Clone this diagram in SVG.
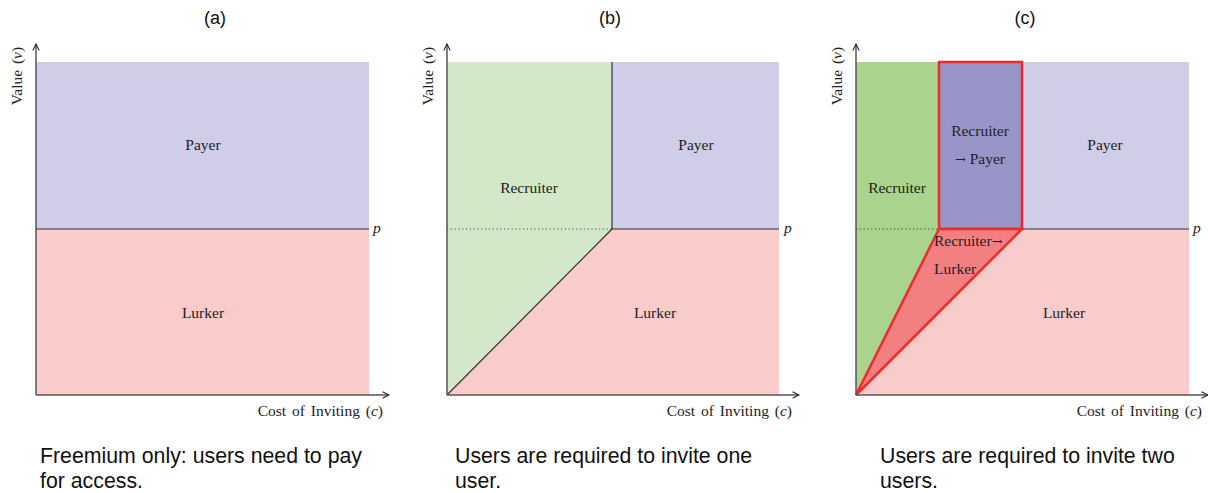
<svg xmlns="http://www.w3.org/2000/svg" width="1208" height="493" viewBox="0 0 1208 493">
<defs>
<marker id="arr" viewBox="0 0 10 10" refX="9" refY="5" markerWidth="8" markerHeight="8" markerUnits="userSpaceOnUse" orient="auto">
<path d="M1,1 L9,5 L1,9" fill="none" stroke="#222" stroke-width="1.3"/>
</marker>
<style>
.lbl{font-family:"Liberation Serif",serif;font-size:15.5px;fill:#222;text-anchor:middle}
.lbll{font-family:"Liberation Serif",serif;font-size:15.5px;fill:#222}
.axl{font-family:"Liberation Serif",serif;font-size:15.5px;fill:#222;word-spacing:2px}
.arw{font-family:"DejaVu Serif",serif;font-size:13px}
.ttl{font-family:"Liberation Sans",Arial,sans-serif;font-size:18px;fill:#111;text-anchor:middle}
.cap{font-family:"Liberation Sans",Arial,sans-serif;font-size:21.3px;fill:#111}
.ax{stroke:#555;stroke-width:1.5;fill:none}
.pline{stroke:#333;stroke-width:1.2;fill:none}
.dot{stroke:#444;stroke-width:1.2;stroke-dasharray:1.2 2.6;fill:none}
.payer{fill:#d0cde8}
.lurker{fill:#f9cbcb}
.rec{fill:#d3e8c8}
.recd{fill:#aad38e}
.rp{fill:#9896c9;stroke:#ee2a2a;stroke-width:2.5}
.rl{fill:#f38080;stroke:#ee2a2a;stroke-width:2.5}
</style>
</defs>

<!-- Panel (a) -->
<g id="panel-a">
<text class="ttl" x="215" y="24">(a)</text>
<rect class="payer" x="36" y="62" width="333" height="167"/>
<rect class="lurker" x="36" y="229" width="333" height="166"/>
<line class="pline" x1="36" y1="229" x2="369" y2="229"/>
<text class="lbl" x="203" y="150">Payer</text>
<text class="lbl" x="203" y="318">Lurker</text>
<text class="lbll" x="373" y="233" font-style="italic">p</text>
<text class="axl" text-anchor="middle" transform="translate(22,76) rotate(-90)">Value (<tspan font-style="italic">v</tspan>)</text>
<text class="axl" x="383" y="416" text-anchor="end">Cost of Inviting (<tspan font-style="italic">c</tspan>)</text>
<text class="cap" x="40" y="463">Freemium only: users need to pay</text>
<text class="cap" x="40" y="488">for access.</text>
</g>

<!-- Panel (b) -->
<g id="panel-b">
<text class="ttl" x="610" y="24">(b)</text>
<polygon class="rec" points="447,62 612,62 612,229 447,395"/>
<polygon class="payer" points="612,62 779,62 779,229 612,229"/>
<polygon class="lurker" points="447,395 612,229 779,229 779,395"/>
<line class="dot" x1="447" y1="229" x2="612" y2="229"/>
<line class="pline" x1="612" y1="229" x2="779" y2="229"/>
<line class="pline" x1="612" y1="62" x2="612" y2="229"/>
<line class="pline" x1="447" y1="395" x2="612" y2="229"/>
<text class="lbl" x="529" y="193">Recruiter</text>
<text class="lbl" x="696" y="150">Payer</text>
<text class="lbl" x="655" y="318">Lurker</text>
<text class="lbll" x="784" y="233" font-style="italic">p</text>
<text class="axl" text-anchor="middle" transform="translate(433,76) rotate(-90)">Value (<tspan font-style="italic">v</tspan>)</text>
<text class="axl" x="792" y="416" text-anchor="end">Cost of Inviting (<tspan font-style="italic">c</tspan>)</text>
<text class="cap" x="455" y="463">Users are required to invite one</text>
<text class="cap" x="455" y="488">user.</text>
</g>

<!-- Panel (c) -->
<g id="panel-c">
<text class="ttl" x="1025" y="24">(c)</text>
<polygon class="recd" points="856,62 939,62 939,229 856,395"/>
<polygon class="payer" points="1022,62 1189,62 1189,229 1022,229"/>
<polygon class="lurker" points="856,395 1022,229 1189,229 1189,395"/>
<line class="dot" x1="856" y1="229" x2="939" y2="229"/>
<line class="pline" x1="1022" y1="229" x2="1189" y2="229"/>
<rect class="rp" x="939" y="62" width="83" height="167"/>
<polygon class="rl" points="856,395 939,229 1022,229"/>
<text class="lbl" x="897" y="193">Recruiter</text>
<text class="lbl" x="980" y="136">Recruiter</text>
<text class="lbl" x="980" y="164"><tspan class="arw">→</tspan> Payer</text>
<text class="lbll" x="934" y="246">Recruiter<tspan class="arw">→</tspan></text>
<text class="lbll" x="934" y="274">Lurker</text>
<text class="lbl" x="1105" y="150">Payer</text>
<text class="lbl" x="1064" y="318">Lurker</text>
<text class="lbll" x="1193" y="233" font-style="italic">p</text>
<text class="axl" text-anchor="middle" transform="translate(842,76) rotate(-90)">Value (<tspan font-style="italic">v</tspan>)</text>
<text class="axl" x="1202" y="416" text-anchor="end">Cost of Inviting (<tspan font-style="italic">c</tspan>)</text>
<text class="cap" x="880" y="463">Users are required to invite two</text>
<text class="cap" x="880" y="488">users.</text>
</g>

<!-- Axes -->
<g id="connectors">
<line class="ax" x1="36" y1="395" x2="36" y2="44" marker-end="url(#arr)"/>
<line class="ax" x1="36" y1="395" x2="389" y2="395" marker-end="url(#arr)"/>
<line class="ax" x1="447" y1="395" x2="447" y2="44" marker-end="url(#arr)"/>
<line class="ax" x1="447" y1="395" x2="799" y2="395" marker-end="url(#arr)"/>
<line class="ax" x1="856" y1="395" x2="856" y2="44" marker-end="url(#arr)"/>
<line class="ax" x1="856" y1="395" x2="1208" y2="395" marker-end="url(#arr)"/>
</g>
</svg>
